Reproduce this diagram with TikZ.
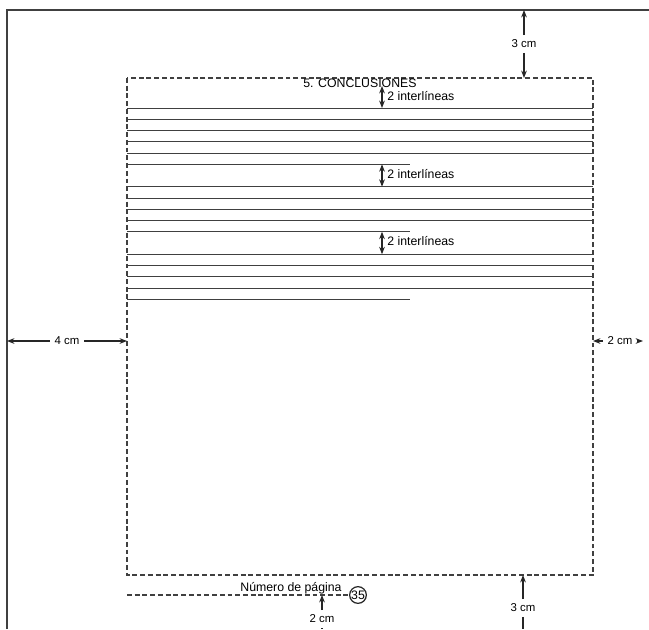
\documentclass[tikz,border=0pt]{standalone}
\usepackage{fontspec}
\setmainfont{Liberation Sans}
\usetikzlibrary{arrows.meta}
\tikzset{
	rule/.style={draw=black!75, line width=0.5pt},
	frame/.style={draw=black!75, line width=0.75pt, dash pattern=on 2.8pt off 1.6pt},
	dimline/.style={draw=black!85, line width=0.7pt},
	dimtip/.style={dimline, -{Stealth[length=4.2pt,width=3.2pt]}},
	bothtip/.style={dimline, {Stealth[length=4.2pt,width=3.2pt]}-{Stealth[length=4.2pt,width=3.2pt]}},
	dimlabel/.style={font=\fontsize{6.5}{7}\selectfont, inner sep=2.5pt},
	txt/.style={font=\fontsize{7}{8}\selectfont, inner sep=0pt},
}
\begin{document}
\begin{tikzpicture}[x=0.02cm, y=-0.02cm]
				\useasboundingbox (0,0) rectangle (649,629);
				% page border
				\draw[black!75, line width=0.9pt] (7,629) -- (7,10) -- (649,10);
				% text frame
				\draw[frame] (127,78) rectangle (593,575);
				\node[txt] (title) at (360,83) {5. CONCLUSIONES};
				%-- ruled lines
				\foreach \k in {0,...,17} {
					\ifnum\k=6 \else\ifnum\k=12 \else
						\ifnum\k=5 \draw[rule] (127,108+11.25*\k) -- (410,108+11.25*\k);
						\else\ifnum\k=11 \draw[rule] (127,108+11.25*\k) -- (410,108+11.25*\k);
						\else\ifnum\k=17 \draw[rule] (127,108+11.25*\k) -- (410,108+11.25*\k);
						\else \draw[rule] (127,108+11.25*\k) -- (593,108+11.25*\k);
						\fi\fi\fi
					\fi\fi
				}
				%-- interlineas
				\coordinate (il1a) at (382,86);
				\coordinate (il1b) at (382,108);
				\draw[bothtip] (il1a) -- (il1b);
				\node[txt, anchor=west] (il1) at (387,96) {2 interlíneas};
				\coordinate (il2a) at (382,164.25);
				\coordinate (il2b) at (382,186.75);
				\draw[bothtip] (il2a) -- (il2b);
				\node[txt, anchor=west] (il2) at (387,174) {2 interlíneas};
				\coordinate (il3a) at (382,231.75);
				\coordinate (il3b) at (382,254.25);
				\draw[bothtip] (il3a) -- (il3b);
				\node[txt, anchor=west] (il3) at (387,241) {2 interlíneas};
				%-- top margin
				\node[dimlabel] (cm3t) at (524,44) {3 cm};
				\coordinate (pgT) at (524,10);
				\coordinate (frT) at (524,78);
				\draw[dimtip] (cm3t) -- (pgT);
				\draw[dimtip] (cm3t) -- (frT);
				%-- left margin
				\node[dimlabel] (cm4) at (67,341) {4 cm};
				\coordinate (pgL) at (7,341);
				\coordinate (frL) at (127,341);
				\draw[dimtip] (cm4) -- (pgL);
				\draw[dimtip] (cm4) -- (frL);
				%-- right margin
				\node[dimlabel] (cm2r) at (620,341) {2 cm};
				\coordinate (frR) at (593,341);
				\coordinate (pgR) at (643,341);
				\draw[dimtip] (cm2r) -- (frR);
				\draw[dimtip] (cm2r) -- (pgR);
				%-- page number
				\node[txt] (pglabel) at (291,588) {Número de página};
				\node[draw=black!85, circle, line width=0.7pt, minimum size=9.5pt, inner sep=0pt, font=\fontsize{7}{8}\selectfont] (pgnum) at (358,595) {35};
				\coordinate (pnstart) at (127,595);
				\draw[frame] (pnstart) -- (pgnum);
				%-- bottom margins
				\node[dimlabel] (cm2b) at (322,619) {2 cm};
				\coordinate (pnB) at (322,595);
				\coordinate (end2) at (322,629);
				\draw[dimtip] (cm2b) -- (pnB);
				\draw[dimline] (cm2b) -- (end2);
				\node[dimlabel] (cm3b) at (523,608) {3 cm};
				\coordinate (frB) at (523,575);
				\coordinate (end3) at (523,629);
				\draw[dimtip] (cm3b) -- (frB);
				\draw[dimline] (cm3b) -- (end3);
\end{tikzpicture}
\end{document}
